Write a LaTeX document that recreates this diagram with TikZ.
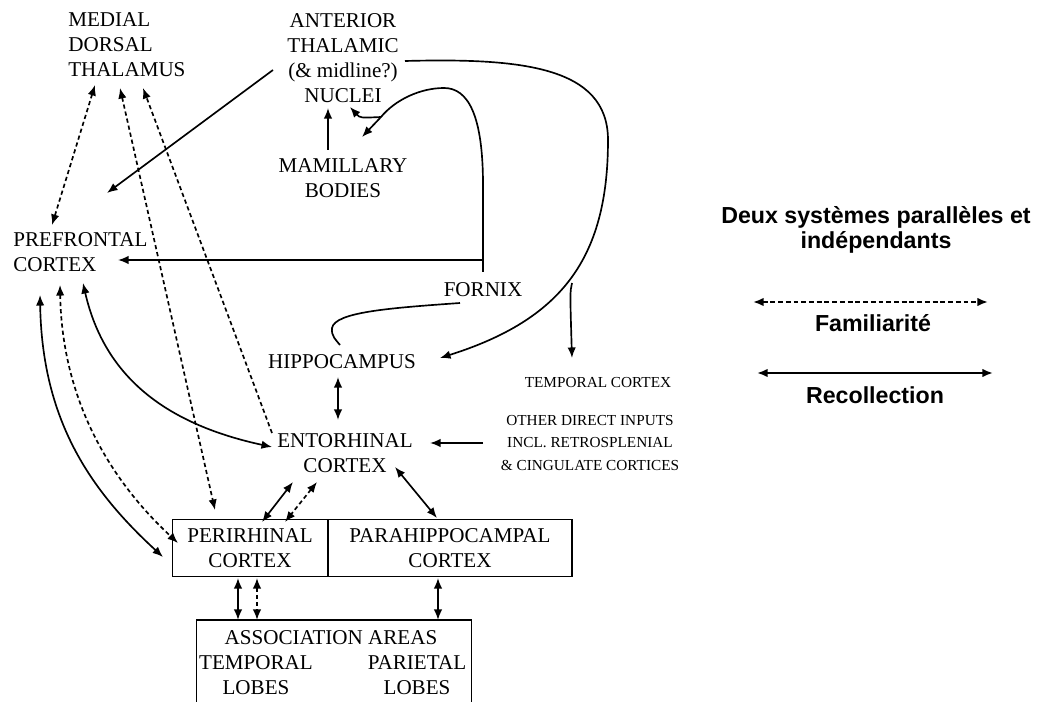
\documentclass[tikz,border=0pt]{standalone}
\usepackage{fontspec}
\setmainfont{Liberation Serif}
\newfontfamily\legendfont{Liberation Sans}
\usepackage{tikz}
\usetikzlibrary{
    positioning,
    arrows.meta,
    calc
}
\newcommand{\lblfont}{\fontsize{12pt}{14.2pt}\selectfont}
\newcommand{\smfont}{\fontsize{8.7pt}{13pt}\selectfont}
\newcommand{\legfont}{\legendfont\bfseries\fontsize{13.2pt}{14.2pt}\selectfont}

\begin{document}
\begin{tikzpicture}[x=0.02cm, y=-0.02cm,
    >={Latex[length=6pt,width=4.8pt]},
    lbl/.style={font=\lblfont, inner sep=0pt, align=center},
    smalllbl/.style={font=\smfont, inner sep=0pt, align=center},
    leg/.style={font=\legfont, inner sep=0pt, align=center},
    boxnode/.style={draw, line width=0.8pt, inner sep=0pt, font=\lblfont, align=center},
    link/.style={line width=0.95pt},
    dlink/.style={line width=0.95pt, dash pattern=on 2.4pt off 1.7pt}]
    \useasboundingbox (0,0) rectangle (1045,702);
    \clip (0,0) rectangle (1045,702);

    % noeuds
    \node[lbl, align=left, anchor=west] (mdt) at (68,45) {MEDIAL\\DORSAL\\THALAMUS};
    \node[lbl] (atn) at (343,58) {ANTERIOR\\THALAMIC\\(\& midline?)\\NUCLEI};
    \node[lbl] (mb) at (343,178) {MAMILLARY\\BODIES};
    \node[lbl, align=left, anchor=west] (pfc) at (13,252) {PREFRONTAL\\CORTEX};
    \node[lbl] (fornix) at (483,290) {FORNIX};
    \node[lbl] (hippo) at (342,362) {HIPPOCAMPUS};
    \node[smalllbl] (tc) at (598,383) {TEMPORAL CORTEX};
    \node[smalllbl] (odi) at (590,443) {OTHER DIRECT INPUTS\\INCL. RETROSPLENIAL\\\& CINGULATE CORTICES};
    \node[lbl] (ent) at (345,453) {ENTORHINAL\\CORTEX};
    \node[boxnode, minimum width=3.1cm, minimum height=1.14cm] (peri) at (250,548) {PERIRHINAL\\CORTEX};
    \node[boxnode, minimum width=4.88cm, minimum height=1.14cm] (para) at (450,548) {PARAHIPPOCAMPAL\\CORTEX};
    \node[draw, line width=0.8pt, minimum width=5.5cm, minimum height=1.84cm] (assoc) at (334,666) {};
    \node[lbl] (areas) at (331,638) {ASSOCIATION AREAS};
    \node[lbl] (templobe) at (256,675) {TEMPORAL\\LOBES};
    \node[lbl] (parlobe) at (417,675) {PARIETAL\\LOBES};

    % legende
    \node[leg] (title) at (876,230) {Deux systèmes parallèles et\\indépendants};
    \node[leg] (fam) at (873,323) {Familiarité};
    \node[leg] (rec) at (875,395) {Recollection};
    \coordinate (famL) at (753,302);
    \coordinate (famR) at (988,302);
    \coordinate (recL) at (757,373);
    \coordinate (recR) at (993,373);
    \draw[<->, line width=1.1pt, dash pattern=on 2.8pt off 1.6pt] (famL) -- (famR);
    \draw[<->, line width=1.1pt] (recL) -- (recR);

    % thalamus
    \draw[dlink, <->] ($(mdt.west)+(27,40)$) -- ($(pfc.west)+(39,-27)$);
    \draw[dlink, <->] ($(mdt.west)+(52,43)$) -- ($(peri)+(-35,-38)$);
    \draw[dlink, ->] ($(ent)+(-73,-20)$) -- ($(mdt.west)+(75,43)$);
    \draw[link, ->] ($(atn)+(-70,12)$) -- ($(pfc.west)+(94,-59)$);
    \draw[link, ->] ($(mb)+(-15,-28)$) -- ($(atn)+(-15,50)$);

    % fornix
    \coordinate (fork) at ($(atn)+(38,59)$);
    \draw[link, ->] ($(fornix)+(0,-18)$) -- (483,185)
        .. controls (483,115) and (468,88) .. (444,88)
        .. controls (420,88) and (395,100) .. (fork) -- ($(mb)+(19,-41)$);
    \draw[link, ->] (fork) .. controls (360,118) .. ($(atn)+(7,49)$);
    \draw[link, ->] ($(fornix)+(0,-30)$) -- ($(pfc.west)+(105,8)$);
    \draw[link] ($(fornix)+(-23,13)$) .. controls (390,308) and (335,312) .. (332,328)
        .. controls (331,336) and (336,340) .. ($(hippo)+(-2,-17)$);

    % anterior -> hippocampus, temporal
    \coordinate (split) at (572,283);
    \draw[link, ->] ($(atn)+(62,3)$) .. controls (520,58) and (608,66) .. (608,140)
        .. controls (608,260) and (560,320) .. ($(hippo)+(98,-4)$);
    \draw[link, ->] (split) .. controls (570,292) .. ($(tc)+(-26,-25)$);

    % hippocampe / entorhinal
    \draw[link, <->] ($(hippo)+(-4,15)$) -- ($(ent)+(-7,-33)$);
    \draw[link, ->] ($(odi)+(-107,0)$) -- ($(ent)+(85,-10)$);

    % prefrontal courbes
    \draw[link, <->] ($(pfc.west)+(70,31)$) .. controls (105,380) and (170,425) .. ($(ent)+(-73,-6)$);
    \draw[link, <->] ($(pfc.west)+(27,43)$) .. controls (42,420) and (90,490) .. ($(peri)+(-87,9)$);
    \draw[dlink, <->] ($(pfc.west)+(47,33)$) .. controls (62,400) and (110,480) .. ($(peri)+(-72,-5)$);

    % cortex
    \draw[link, <->] ($(ent)+(-52,29)$) -- ($(peri)+(12,-26)$);
    \draw[dlink, <->] ($(ent)+(-28,29)$) -- ($(peri)+(35,-26)$);
    \draw[link, <->] ($(ent)+(50,14)$) -- ($(para)+(-13,-30)$);
    \draw[link, <->] ($(peri)+(-12,30)$) -- ($(assoc)+(-96,-46)$);
    \draw[dlink, <->] ($(peri)+(7,30)$) -- ($(assoc)+(-77,-46)$);
    \draw[link, <->] ($(para)+(-12,30)$) -- ($(assoc)+(104,-46)$);
\end{tikzpicture}
\end{document}
